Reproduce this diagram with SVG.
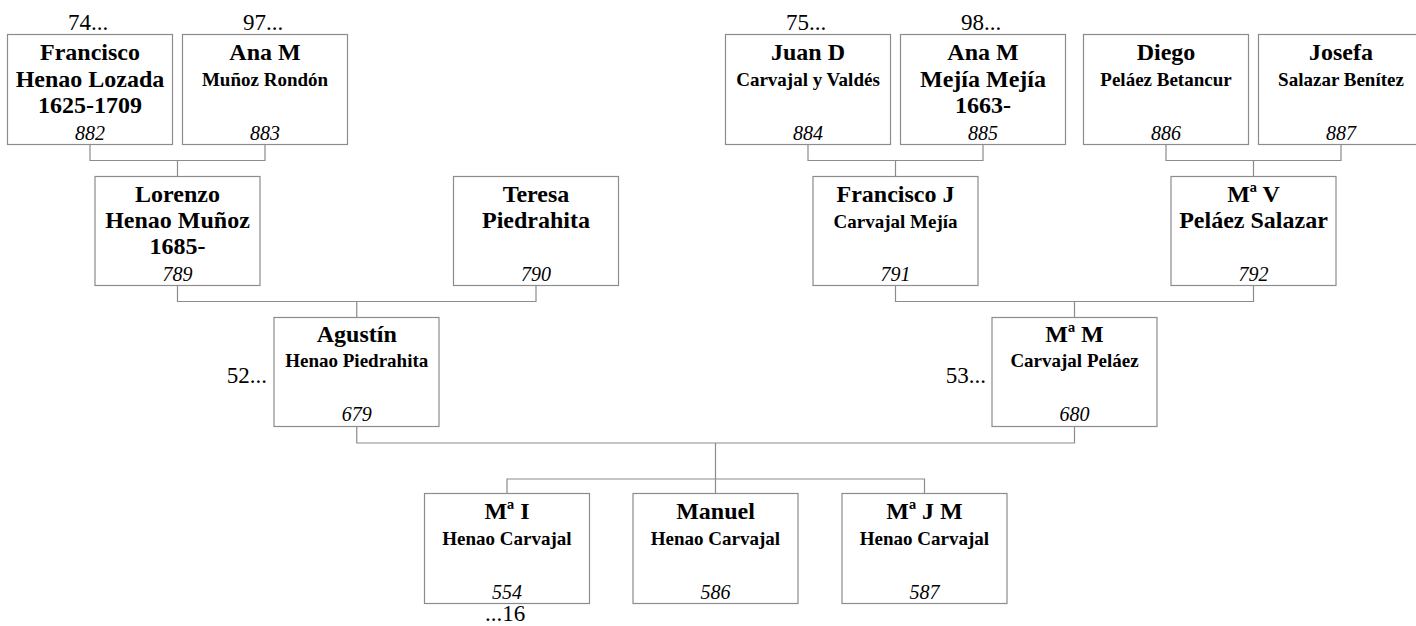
<svg xmlns="http://www.w3.org/2000/svg" width="1416" height="626" viewBox="0 0 1416 626">
<style>
.box{fill:#fff;stroke:#8c8c8c;stroke-width:1.2}
.con{fill:none;stroke:#8c8c8c;stroke-width:1.2}
text{font-family:"Liberation Serif","Times New Roman",serif;fill:#000;text-anchor:middle}
.b{font-weight:bold;font-size:24px}
.s{font-weight:bold;font-size:19px}
.n{font-style:italic;font-size:20px}
.l{font-size:23px}
.e{text-anchor:end}
</style>
<rect width="1416" height="626" fill="#fff"/>
<g id="connectors">
<path class="con" d="M90,144.5V160.5H265V144.5M177.5,160.5V176.5"/>
<path class="con" d="M808,144.5V160.5H983V144.5M895.5,160.5V176.5"/>
<path class="con" d="M1166,144.5V160.5H1341V144.5M1253.5,160.5V176.5"/>
<path class="con" d="M177.5,285.5V301.5H536V285.5M356.75,301.5V317.5"/>
<path class="con" d="M895.5,285.5V301.5H1253.5V285.5M1074.5,301.5V317.5"/>
<path class="con" d="M356.75,426.5V443H1074.5V426.5M715.5,443V493.5"/>
<path class="con" d="M507,493.5V479H924.5V493.5"/>
</g>
<g id="n882"><rect class="box" x="7.5" y="34.5" width="165" height="110"/>
<text x="88" y="30" class="l">74...</text>
<text x="90" y="60" class="b">Francisco</text><text x="90" y="87" class="b">Henao Lozada</text><text x="90" y="113" class="b">1625-1709</text><text x="90" y="139.5" class="n">882</text></g>
<g id="n883"><rect class="box" x="182.5" y="34.5" width="165" height="110"/>
<text x="263" y="30" class="l">97...</text>
<text x="265" y="60" class="b">Ana M</text><text x="265" y="86" class="s">Muñoz Rondón</text><text x="265" y="139.5" class="n">883</text></g>
<g id="n884"><rect class="box" x="725.5" y="34.5" width="165" height="110"/>
<text x="806" y="30" class="l">75...</text>
<text x="808" y="60" class="b">Juan D</text><text x="808" y="86" class="s">Carvajal y Valdés</text><text x="808" y="139.5" class="n">884</text></g>
<g id="n885"><rect class="box" x="900.5" y="34.5" width="165" height="110"/>
<text x="981" y="30" class="l">98...</text>
<text x="983" y="60" class="b">Ana M</text><text x="983" y="87" class="b">Mejía Mejía</text><text x="983" y="113" class="b">1663-</text><text x="983" y="139.5" class="n">885</text></g>
<g id="n886"><rect class="box" x="1083.5" y="34.5" width="165" height="110"/>
<text x="1166" y="60" class="b">Diego</text><text x="1166" y="86" class="s">Peláez Betancur</text><text x="1166" y="139.5" class="n">886</text></g>
<g id="n887"><rect class="box" x="1258.5" y="34.5" width="165" height="110"/>
<text x="1341" y="60" class="b">Josefa</text><text x="1341" y="86" class="s">Salazar Benítez</text><text x="1341" y="139.5" class="n">887</text></g>
<g id="n789"><rect class="box" x="95" y="176.5" width="165" height="109"/>
<text x="177.5" y="201.5" class="b">Lorenzo</text><text x="177.5" y="227.5" class="b">Henao Muñoz</text><text x="177.5" y="254" class="b">1685-</text><text x="177.5" y="280.5" class="n">789</text></g>
<g id="n790"><rect class="box" x="453.5" y="176.5" width="165" height="109"/>
<text x="536" y="201.5" class="b">Teresa</text><text x="536" y="227.5" class="b">Piedrahita</text><text x="536" y="280.5" class="n">790</text></g>
<g id="n791"><rect class="box" x="813" y="176.5" width="165" height="109"/>
<text x="895.5" y="201.5" class="b">Francisco J</text><text x="895.5" y="227.5" class="s">Carvajal Mejía</text><text x="895.5" y="280.5" class="n">791</text></g>
<g id="n792"><rect class="box" x="1171" y="176.5" width="165" height="109"/>
<text x="1253.5" y="201.5" class="b">Mª V</text><text x="1253.5" y="227.5" class="b">Peláez Salazar</text><text x="1253.5" y="280.5" class="n">792</text></g>
<g id="n679"><rect class="box" x="274" y="317.5" width="165" height="109"/>
<text x="267" y="383" class="l e">52...</text>
<text x="356.75" y="342" class="b">Agustín</text><text x="356.75" y="367" class="s">Henao Piedrahita</text><text x="356.75" y="421" class="n">679</text></g>
<g id="n680"><rect class="box" x="992" y="317.5" width="165" height="109"/>
<text x="986" y="383" class="l e">53...</text>
<text x="1074.5" y="342" class="b">Mª M</text><text x="1074.5" y="367" class="s">Carvajal Peláez</text><text x="1074.5" y="421" class="n">680</text></g>
<g id="n554"><rect class="box" x="424.5" y="493.5" width="165" height="110"/>
<text x="507" y="519" class="b">Mª I</text><text x="507" y="545" class="s">Henao Carvajal</text><text x="507" y="598.5" class="n">554</text>
<text x="505" y="621" class="l">...16</text></g>
<g id="n586"><rect class="box" x="633" y="493.5" width="165" height="110"/>
<text x="715.5" y="519" class="b">Manuel</text><text x="715.5" y="545" class="s">Henao Carvajal</text><text x="715.5" y="598.5" class="n">586</text></g>
<g id="n587"><rect class="box" x="842" y="493.5" width="165" height="110"/>
<text x="924.5" y="519" class="b">Mª J M</text><text x="924.5" y="545" class="s">Henao Carvajal</text><text x="924.5" y="598.5" class="n">587</text></g>
</svg>
